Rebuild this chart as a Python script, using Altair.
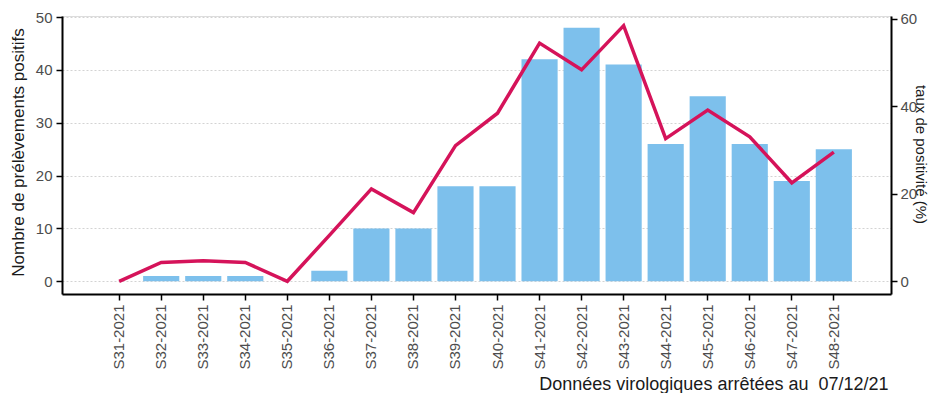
import altair as alt
import pandas as pd

weeks = ["S31-2021", "S32-2021", "S33-2021", "S34-2021", "S35-2021", "S36-2021",
         "S37-2021", "S38-2021", "S39-2021", "S40-2021", "S41-2021", "S42-2021",
         "S43-2021", "S44-2021", "S45-2021", "S46-2021", "S47-2021", "S48-2021"]
counts = [0, 1, 1, 1, 0, 2, 10, 10, 18, 18, 42, 48, 41, 26, 35, 26, 19, 25]
rates = [0, 4.3, 4.7, 4.3, 0, 10.5, 21.1, 15.7, 31.0, 38.4, 54.4, 48.3, 58.4,
         32.6, 39.1, 33.0, 22.5, 29.5]
left_ticks = [0, 10, 20, 30, 40, 50]
right_ticks = [0, 20, 40, 60]
left_title = "Nombre de prélèvements positifs"
right_title = "taux de positivité (%)"
caption = "Données virologiques arrêtées au\u00a0 07/12/21"

df = pd.DataFrame({"week": weeks, "count": counts, "rate": rates})

W, H = 829, 278
FONT = "Liberation Sans"
LABEL_GREY = "#4d4d4d"

x = alt.X(
    "week:N", sort=weeks,
    scale=alt.Scale(paddingInner=0.14, paddingOuter=0.93),
    axis=alt.Axis(
        title=caption, labelAngle=270, labelAlign="right", labelBaseline="middle",
        labelFontSize=15, labelColor=LABEL_GREY, labelPadding=4, labelOverlap=False,
        tickSize=6, tickColor="black", tickWidth=1.5,
        domainColor="black", domainWidth=2, grid=False,
        titleFontSize=18, titleFontWeight="normal", titleColor="#1a1a1a",
        titleX=826, titleY=95, titleAlign="right", titleBaseline="alphabetic",
    ),
)

bars = alt.Chart(df).mark_bar(color="#7dc0ec").encode(
    x=x,
    y=alt.Y(
        "count:Q",
        scale=alt.Scale(domain=[-2.4, 50.2], nice=False),
        axis=alt.Axis(
            values=left_ticks, title=left_title, grid=True, gridDash=[2, 2],
            gridColor="#c8c8c8", gridWidth=0.8,
            labelFontSize=15, labelColor=LABEL_GREY, labelPadding=4,
            tickSize=6, tickColor="black", tickWidth=1.5,
            domainColor="black", domainWidth=2,
            titleFontSize=17, titleFontWeight="normal", titleColor="#1a1a1a",
            titleAngle=270, titleBaseline="bottom", titleAlign="center",
            titleX=-35, titleY=136,
        ),
    ),
)

line = alt.Chart(df).mark_line(color="#d5135a", strokeWidth=3.5).encode(
    x=x,
    y=alt.Y(
        "rate:Q",
        scale=alt.Scale(domain=[-2.9, 60.6], nice=False),
        axis=alt.Axis(
            orient="right", values=right_ticks, title=right_title, grid=False,
            labelFontSize=15, labelColor=LABEL_GREY, labelPadding=3,
            tickSize=6, tickColor="black", tickWidth=1.5,
            domainColor="black", domainWidth=2,
            titleFontSize=15, titleFontWeight="normal", titleColor="#1a1a1a",
            titleAngle=90, titleBaseline="middle", titleAlign="center",
            titleX=29, titleY=138,
        ),
    ),
)

chart = (
    alt.layer(bars, line)
    .resolve_scale(y="independent")
    .properties(
        width=W, height=H,
        padding={"left": 54, "top": 8, "right": 37, "bottom": 99},
        autosize=alt.AutoSizeParams(type="none"),
    )
    .configure_view(stroke=None)
    .configure_axis(labelFont=FONT, titleFont=FONT)
    .configure(background="white")
)

chart.save("out.html", embed_options={"renderer": "svg", "actions": False})
